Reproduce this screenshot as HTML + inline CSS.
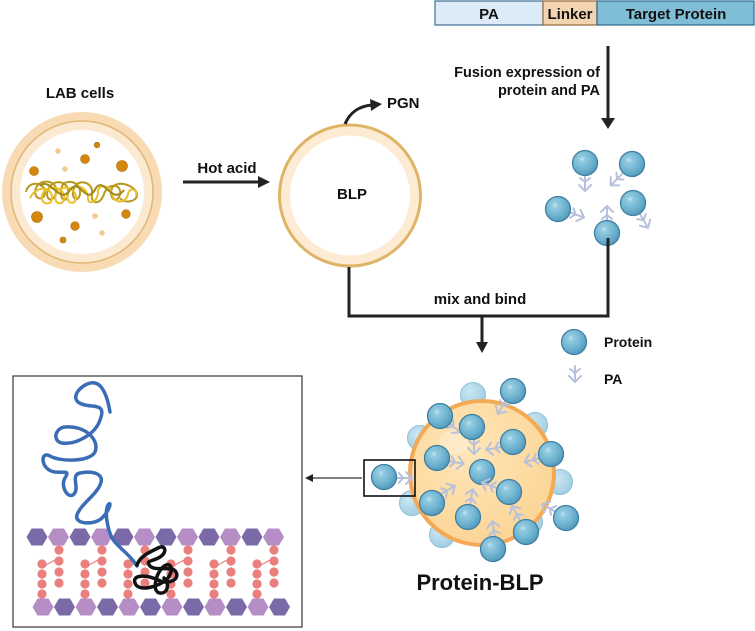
<!DOCTYPE html>
<html><head><meta charset="utf-8"><style>
html,body{margin:0;padding:0;background:#fff}
svg{display:block}
text{font-family:"Liberation Sans",Arial,sans-serif;font-weight:bold;fill:#111}
</style></head><body>
<svg width="755" height="631" viewBox="0 0 755 631" xmlns="http://www.w3.org/2000/svg">
<defs>
<radialGradient id="g1" cx="0.38" cy="0.35" r="0.7">
<stop offset="0" stop-color="#9fd3e6"/><stop offset="0.6" stop-color="#6fb3d0"/><stop offset="1" stop-color="#4f97ba"/></radialGradient>
<radialGradient id="g2" cx="0.38" cy="0.35" r="0.7">
<stop offset="0" stop-color="#cbe7f2"/><stop offset="1" stop-color="#9fcde2"/></radialGradient>
<radialGradient id="gb" cx="0.4" cy="0.35" r="0.7">
<stop offset="0" stop-color="#ffe6b8"/><stop offset="1" stop-color="#fcd494"/></radialGradient>
<g id="sp"><circle r="12.5" fill="url(#g1)" stroke="#3f7fa2" stroke-width="1.3"/><circle cx="-3" cy="-4" r="2" fill="#b9e0ee" opacity="0.7"/></g>
<g id="spl"><circle r="12.5" fill="url(#g2)" stroke="#8ec0d8" stroke-width="1"/></g>
<g id="pa" fill="none" stroke="#b7c1db" stroke-width="2" stroke-linecap="round"><path d="M0,0 L16,0 M16,0 L10,-6 M16,0 L10,6 M7,0 L3,-5 M7,0 L3,5"/></g>
<polygon id="hx" points="-10.5,0 -5.5,-8.5 5.5,-8.5 10.5,0 5.5,8.5 -5.5,8.5"/>
</defs>

<rect x="435" y="1" width="108" height="24" fill="#ddebf8" stroke="#3d6f96" stroke-width="1.2"/>
<rect x="543" y="1" width="54" height="24" fill="#f2d3b2" stroke="#9a6a3a" stroke-width="1.2"/>
<rect x="597" y="1" width="157" height="24" fill="#7fbed6" stroke="#2f6a8c" stroke-width="1.2"/>
<text x="489" y="19" font-size="15" text-anchor="middle">PA</text>
<text x="570" y="19" font-size="15" text-anchor="middle">Linker</text>
<text x="676" y="19" font-size="15" text-anchor="middle">Target Protein</text>

<line x1="608" y1="46" x2="608" y2="122" stroke="#222" stroke-width="3"/>
<path d="M601,118 L615,118 L608,129 z" fill="#222"/>
<text x="600" y="77" font-size="14.5" text-anchor="end">Fusion expression of</text>
<text x="600" y="95" font-size="14.5" text-anchor="end">protein and PA</text>

<use href="#pa" transform="translate(585,175) rotate(90)"/><use href="#sp" x="585" y="163"/>
<use href="#pa" transform="translate(622,174) rotate(135)"/><use href="#sp" x="632" y="164"/>
<use href="#pa" transform="translate(569,212) rotate(20)"/><use href="#sp" x="558" y="209"/>
<use href="#pa" transform="translate(640,214) rotate(60)"/><use href="#sp" x="633" y="203"/>
<use href="#pa" transform="translate(607,222) rotate(-90)"/><use href="#sp" x="607" y="233"/>

<text x="80" y="98" font-size="15" text-anchor="middle">LAB cells</text>
<circle cx="82" cy="192" r="80" fill="#f8dbb4"/>
<circle cx="82" cy="192" r="71" fill="#fbe9d2" stroke="#dfb872" stroke-width="1.5"/>
<circle cx="82" cy="192" r="62" fill="#ffffff"/>
<g fill="#d4870f" stroke="#b46d08" stroke-width="0.6">
<circle cx="34" cy="171" r="4.5"/><circle cx="85" cy="159" r="4.5"/><circle cx="97" cy="145" r="2.8"/>
<circle cx="122" cy="166" r="5.5"/><circle cx="37" cy="217" r="5.5"/><circle cx="75" cy="226" r="4.3"/>
<circle cx="126" cy="214" r="4.3"/><circle cx="63" cy="240" r="3"/></g>
<g fill="#f0c993"><circle cx="58" cy="151" r="2.8"/><circle cx="65" cy="169" r="2.8"/><circle cx="95" cy="216" r="2.8"/><circle cx="102" cy="233" r="2.8"/></g>
<g fill="none" stroke-width="2">
<path stroke="#b8981d" d="M26,192 C28,180 45,182 45,192 C45,202 32,200 36,188 C40,178 58,180 56,192 C54,204 44,200 48,190 C52,178 70,180 68,194 C66,206 58,198 62,186 C66,178 82,182 80,194 C78,204 70,198 74,188 C78,178 94,182 92,194 C90,204 100,206 104,194 C108,182 122,184 120,194 C118,204 108,200 112,188 C116,180 134,184 137,194 C138,202 124,204 120,198"/>
<path stroke="#e8c02a" d="M30,198 C36,186 50,186 52,196 C54,206 40,206 42,196 C44,186 62,184 64,196 C66,206 52,206 56,194 C60,184 76,186 76,198 C76,206 64,204 68,192 C72,182 88,186 88,198 C88,206 98,202 98,192 C98,184 110,184 112,194 C114,204 126,204 128,194 C130,186 138,190 136,196"/>
<path stroke="#a08a1c" d="M40,186 C50,176 60,206 70,190 C80,176 86,208 96,188 C104,176 112,206 124,190"/>
</g>

<line x1="183" y1="182" x2="262" y2="182" stroke="#222" stroke-width="3"/>
<path d="M258,176 L270,182 L258,188 z" fill="#222"/>
<text x="227" y="173" font-size="15" text-anchor="middle">Hot acid</text>

<circle cx="350" cy="195.5" r="70.5" fill="#fdebd3" stroke="#e0b466" stroke-width="3"/>
<circle cx="350" cy="195.5" r="60" fill="#fff"/>
<text x="352" y="199" font-size="15" text-anchor="middle">BLP</text>
<path d="M345,124 C350,112 360,106 372,105" fill="none" stroke="#222" stroke-width="3"/>
<path d="M370,99 L382,104 L371,111 z" fill="#222"/>
<text x="387" y="108" font-size="15">PGN</text>

<path d="M349,267 L349,316 L608,316 L608,238" fill="none" stroke="#222" stroke-width="3"/>
<line x1="482" y1="316" x2="482" y2="345" stroke="#222" stroke-width="3"/>
<path d="M476,342 L488,342 L482,353 z" fill="#222"/>
<text x="480" y="304" font-size="15" text-anchor="middle">mix and bind</text>

<use href="#sp" x="574" y="342"/>
<text x="604" y="347" font-size="14">Protein</text>
<use href="#pa" transform="translate(575,366) rotate(90)"/>
<text x="604" y="384" font-size="14">PA</text>

<use href="#spl" x="473" y="395"/><use href="#spl" x="535" y="425"/><use href="#spl" x="420" y="438"/>
<use href="#spl" x="560" y="482"/><use href="#spl" x="412" y="503"/><use href="#spl" x="442" y="535"/><use href="#spl" x="530" y="522"/>
<circle cx="482" cy="473" r="72" fill="url(#gb)" stroke="#f4a955" stroke-width="4"/>
<ellipse cx="455" cy="442" rx="15" ry="12" fill="#fff" opacity="0.25"/>
<g>
<use href="#pa" transform="translate(506,400) rotate(120)"/><use href="#sp" x="513" y="391"/>
<use href="#pa" transform="translate(448,422) rotate(40)"/><use href="#sp" x="440" y="416"/>
<use href="#pa" transform="translate(474,438) rotate(90)"/><use href="#sp" x="472" y="427"/>
<use href="#pa" transform="translate(502,447) rotate(170)"/><use href="#sp" x="513" y="442"/>
<use href="#pa" transform="translate(540,458) rotate(165)"/><use href="#sp" x="551" y="454"/>
<use href="#pa" transform="translate(448,461) rotate(10)"/><use href="#sp" x="437" y="458"/>
<use href="#sp" x="482" y="472"/>
<use href="#pa" transform="translate(497,488) rotate(200)"/><use href="#sp" x="509" y="492"/>
<use href="#pa" transform="translate(441,494) rotate(-30)"/><use href="#sp" x="432" y="503"/>
<use href="#pa" transform="translate(470,505) rotate(-80)"/><use href="#sp" x="468" y="517"/>
<use href="#pa" transform="translate(556,512) rotate(210)"/><use href="#sp" x="566" y="518"/>
<use href="#pa" transform="translate(520,520) rotate(-120)"/><use href="#sp" x="526" y="532"/>
<use href="#pa" transform="translate(495,537) rotate(-100)"/><use href="#sp" x="493" y="549"/>
<use href="#pa" transform="translate(396,478) rotate(0)"/><use href="#sp" x="384" y="477"/>
</g>
<rect x="364" y="460" width="51" height="36" fill="none" stroke="#111" stroke-width="1.6"/>
<line x1="362" y1="478" x2="312" y2="478" stroke="#333" stroke-width="1.2"/>
<path d="M313,474 L305,478 L313,482 z" fill="#222"/>
<text x="480" y="590" font-size="22" text-anchor="middle">Protein-BLP</text>

<rect x="13" y="376" width="289" height="251" fill="#fff" stroke="#444" stroke-width="1.3"/>
<g fill="#e9807d">
<g id="lp">
<circle cx="42" cy="564" r="4.6"/><circle cx="42" cy="574" r="4.6"/><circle cx="42" cy="584" r="4.6"/><circle cx="42" cy="594" r="4.6"/>
<circle cx="59" cy="550" r="4.6"/><circle cx="59" cy="561" r="4.6"/><circle cx="59" cy="572" r="4.6"/><circle cx="59" cy="583" r="4.6"/>
<line x1="46" y1="565" x2="55" y2="560" stroke="#e9807d" stroke-width="1.2"/>
</g>
<use href="#lp" x="43"/><use href="#lp" x="86"/><use href="#lp" x="129"/><use href="#lp" x="172"/><use href="#lp" x="215"/>
</g>
<g>
<use href="#hx" x="37" y="537" fill="#7a6aa8"/><use href="#hx" x="58.5" y="537" fill="#b48ec4"/>
<use href="#hx" x="80" y="537" fill="#7a6aa8"/><use href="#hx" x="101.5" y="537" fill="#b48ec4"/>
<use href="#hx" x="123" y="537" fill="#7a6aa8"/><use href="#hx" x="144.5" y="537" fill="#b48ec4"/>
<use href="#hx" x="166" y="537" fill="#7a6aa8"/><use href="#hx" x="187.5" y="537" fill="#b48ec4"/>
<use href="#hx" x="209" y="537" fill="#7a6aa8"/><use href="#hx" x="230.5" y="537" fill="#b48ec4"/>
<use href="#hx" x="252" y="537" fill="#7a6aa8"/><use href="#hx" x="273.5" y="537" fill="#b48ec4"/>
<use href="#hx" x="43" y="607" fill="#b48ec4"/><use href="#hx" x="64.5" y="607" fill="#7a6aa8"/>
<use href="#hx" x="86" y="607" fill="#b48ec4"/><use href="#hx" x="107.5" y="607" fill="#7a6aa8"/>
<use href="#hx" x="129" y="607" fill="#b48ec4"/><use href="#hx" x="150.5" y="607" fill="#7a6aa8"/>
<use href="#hx" x="172" y="607" fill="#b48ec4"/><use href="#hx" x="193.5" y="607" fill="#7a6aa8"/>
<use href="#hx" x="215" y="607" fill="#b48ec4"/><use href="#hx" x="236.5" y="607" fill="#7a6aa8"/>
<use href="#hx" x="258" y="607" fill="#b48ec4"/><use href="#hx" x="279.5" y="607" fill="#7a6aa8"/>
</g>
<path d="M110,412 C108,400 104,385 95,383 C85,381 70,395 78,402 C88,410 108,400 100,420 C95,435 75,445 62,443 C52,441 55,428 65,427 C85,425 100,440 95,452 C90,462 60,462 50,456 C40,450 40,470 55,472 C65,473 70,470 65,478 C60,486 68,500 74,494 C80,488 70,475 80,473 C95,470 105,475 100,485 C96,495 80,505 77,515 C74,525 95,525 102,518 C110,510 112,500 108,505 C104,512 108,530 112,538 C118,548 128,552 137,566" fill="none" stroke="#3a6db5" stroke-width="3.5" stroke-linecap="round"/>
<path d="M137,565 C140,556 150,552 158,548 C165,544 168,552 160,557 C152,562 145,560 150,566 C156,572 172,565 176,572 C180,580 168,585 158,580 C145,574 132,575 135,583 C138,592 158,588 168,578 C175,568 170,560 162,568 C155,576 152,592 160,593 C168,594 170,583 164,578" fill="none" stroke="#111" stroke-width="3.5" stroke-linecap="round"/>
</svg>
</body></html>
